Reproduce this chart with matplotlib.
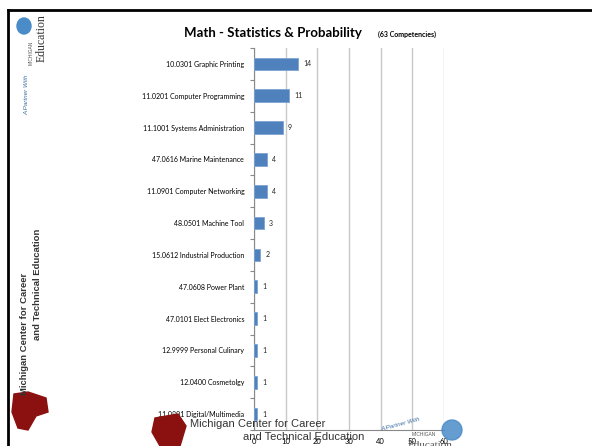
#!/usr/bin/env python3
'''
horizontal bar chart of competencies per program, drawn on a slide-like page
'''
import numpy as np
import matplotlib
matplotlib.use('Agg')
import matplotlib.pyplot as plt
from matplotlib.patches import Polygon, Ellipse
from matplotlib.lines import Line2D

programs = ['10.0301 Graphic Printing', '11.0201 Computer Programming',
            '11.1001 Systems Administration', '47.0616 Marine Maintenance',
            '11.0901 Computer Networking', '48.0501 Machine Tool',
            '15.0612 Industrial Production', '47.0608 Power Plant',
            '47.0101 Elect Electronics', '12.9999 Personal Culinary',
            '12.0400 Cosmetolgy', '11.0801 Digital/Multimedia']
counts = [14, 11, 9, 4, 4, 3, 2, 1, 1, 1, 1, 1]
x_ticks = [0, 10, 20, 30, 40, 50, 60]

plt.rcParams['font.family'] = ['Lato', 'DejaVu Sans']

fig = plt.figure(figsize=(5.92, 4.46), dpi=100)
fig.patch.set_facecolor('white')

ax = fig.add_axes([254/592, 1-430/446, 190/592, 382/446])
y = np.arange(len(programs))
ax.barh(y, counts, height=0.4, color='#4F81BD', edgecolor='#7EA3D3', linewidth=0.6, zorder=3)
for yi, c in zip(y, counts):
    ax.text(c + 1.6, yi, str(c), va='center', ha='left', fontsize=5, color='#222222')

ax.set_ylim(len(programs) - 0.5, -0.5)
ax.set_xlim(0, 60)
ax.set_xticks(x_ticks)
ax.set_xticklabels([str(t) for t in x_ticks], fontsize=5.5)
ax.set_yticks(y)
ax.set_yticklabels(programs, fontsize=5)
ax.set_yticks(np.arange(len(programs) + 1) - 0.5, minor=True)
ax.tick_params(axis='y', which='major', length=0, pad=7)
ax.tick_params(axis='y', which='minor', length=3, color='#888888', width=0.8)
ax.tick_params(axis='x', length=0, pad=6)
ax.grid(axis='x', color='#C8C8C8', linewidth=1.0, zorder=0)
for s in ['top', 'right']:
    ax.spines[s].set_visible(False)
ax.spines['left'].set_color('#888888')
ax.spines['bottom'].set_color('#888888')

# title
fig.text(362/592, 1-37/446, 'Math - Statistics & Probability', ha='right', va='baseline',
         fontsize=9.5, fontweight='bold')
fig.text(378/592, 1-37/446, '(63 Competencies)', ha='left', va='baseline',
         fontsize=5, fontweight='bold')

# slide frame
fig.add_artist(Line2D([8/592, 1], [1-10/446, 1-10/446], color='black', lw=2))
fig.add_artist(Line2D([8/592, 8/592], [1-10/446, 0], color='black', lw=2))

# left vertical logo
fig.text(25/592, 1-334/446, 'Michigan Center for Career', rotation=90, ha='center', va='center',
         fontsize=6.8, fontweight='bold', family='Liberation Sans', color='#333333')
fig.text(38/592, 1-284/446, 'and Technical Education', rotation=90, ha='center', va='center',
         fontsize=6.8, fontweight='bold', family='Liberation Sans', color='#333333')
fig.text(27/592, 1-95/446, 'A Partner With', rotation=90, ha='center', va='center',
         fontsize=4.5, style='italic', family='Liberation Sans', color='#3A6EA5')
fig.text(31/592, 1-53/446, 'MICHIGAN', rotation=90, ha='center', va='center',
         fontsize=3.5, family='Liberation Sans', color='#555555')
fig.text(42/592, 1-38/446, 'Education', rotation=90, ha='center', va='center',
         fontsize=8.5, family='Liberation Serif', color='#333333')
fig.add_artist(Ellipse((24/592, 1-26/446), 14/592, 16/446, color='#4A8CC8'))
fig.add_artist(Polygon([[14/592, 1-394/446], [28/592, 1-392/446], [46/592, 1-398/446],
                        [48/592, 1-412/446], [36/592, 1-416/446], [28/592, 1-430/446],
                        [18/592, 1-428/446], [12/592, 1-412/446]],
                       closed=True, color='#8B1010'))

# bottom overlay logo
fig.add_artist(Polygon([[155/592, 1-418/446], [178/592, 1-414/446], [186/592, 1-426/446],
                        [180/592, 1-446/446], [160/592, 1-446/446], [152/592, 1-432/446]],
                       closed=True, color='#8B1010'))
fig.text(190/592, 1-424/446, 'Michigan Center for Career', ha='left', va='center',
         fontsize=8, family='Liberation Sans', color='#333333')
fig.text(243/592, 1-437/446, 'and Technical Education', ha='left', va='center',
         fontsize=8, family='Liberation Sans', color='#333333')
fig.text(400/592, 1-424/446, 'A Partner With', rotation=15, ha='center', va='center',
         fontsize=4.5, style='italic', family='Liberation Sans', color='#3A6EA5')
fig.text(424/592, 1-434/446, 'MICHIGAN', ha='center', va='center',
         fontsize=3.5, family='Liberation Sans', color='#555555')
fig.text(430/592, 1-446/446, 'Education', ha='center', va='center',
         fontsize=8, family='Liberation Serif', color='#555555')
fig.add_artist(Ellipse((452/592, 1-430/446), 20/592, 20/446, color='#4A8CC8', alpha=0.85))

fig.savefig('out.png', dpi=100)
